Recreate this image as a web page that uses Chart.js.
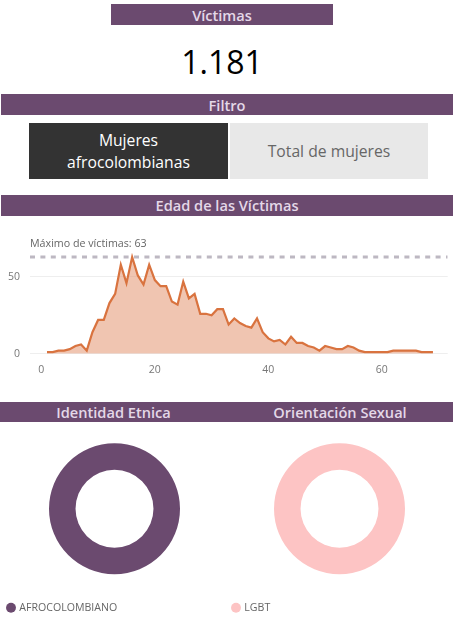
<!DOCTYPE html>
<html lang="es"><head><meta charset="utf-8">
<script src="https://cdn.jsdelivr.net/npm/chart.js@4"></script>
<style>
html,body{margin:0;padding:0;background:#fff;width:469px;height:635px;overflow:hidden;font-family:"Open Sans",sans-serif}
.bar,.btn,.num,canvas{position:absolute}
.bar{background:#6b4a6f;color:#e4d8e8;font-weight:600;font-size:14.6px;text-align:center;display:flex;align-items:center;justify-content:center;height:21px}
.btn{display:flex;align-items:center;justify-content:center;text-align:center;font-size:15.7px;line-height:22px}
.num{left:111px;width:222px;top:38px;text-align:center;font-size:32px;line-height:48px;color:#000}
</style></head><body>
<div class="bar" style="left:111px;top:4px;width:222px">Víctimas</div>
<div class="num">1.181</div>
<div class="bar" style="left:1px;top:94px;width:452px">Filtro</div>
<div class="btn" style="left:29px;top:123px;width:199px;height:56px;background:#333;color:#fff">Mujeres<br>afrocolombianas</div>
<div class="btn" style="left:230px;top:123px;width:198px;height:56px;background:#e8e8e8;color:#666">Total de mujeres</div>
<div class="bar" style="left:1px;top:194.5px;width:452px">Edad de las Víctimas</div>
<canvas id="line" style="left:0;top:226px;width:469px;height:150px"></canvas>
<canvas id="d1" style="left:0;top:423px;width:229px;height:200px"></canvas>
<canvas id="d2" style="left:225px;top:423px;width:229px;height:200px"></canvas>
<div class="bar" style="left:0;top:402px;width:227px;height:20px">Identidad Etnica</div>
<div class="bar" style="left:227px;top:402px;width:226px;height:20px">Orientación Sexual</div>
<script>
const ages = [1,2,3,4,5,6,7,8,9,10,11,12,13,14,15,16,17,18,19,20,21,22,23,24,25,26,27,28,29,30,31,32,33,34,35,36,37,38,39,40,41,42,43,44,45,46,47,48,49,50,51,52,53,54,55,56,57,58,59,60,61,62,63,64,65,66,67,68,69];
const victims = [1,1,2,2,3,5,6,2,14,22,22,33,39,58,46,63,51,45,58,48,44,44,34,32,47,36,39,26,26,25,29,29,19,23,20,18,17,23,14,10,8,9,6,11,7,7,5,4,2,5,4,3,3,5,4,2,1,1,1,1,1,2,2,2,2,2,1,1,1];
const maxValue = 63;
const maxLabel = "Máximo de víctimas: 63";
const xTicks = [0,20,40,60];
const yTicks = [0,50];
const ethnicLabels = ["AFROCOLOMBIANO"];
const ethnicValues = [1181];
const orientationLabels = ["LGBT"];
const orientationValues = [1181];

const FONT = "'Open Sans', sans-serif";
const X_MIN = -2, X_MAX = 71.6;
Chart.defaults.font.family = FONT;
Chart.defaults.animation = false;

const maxLabelPlugin = {
  id: 'maxLabel',
  afterDraw(c) {
    const ctx = c.ctx;
    ctx.save();
    ctx.font = "10.7px " + FONT;
    ctx.fillStyle = "#666";
    ctx.textAlign = "left";
    ctx.textBaseline = "alphabetic";
    ctx.fillText(maxLabel, c.scales.x.left, c.scales.y.getPixelForValue(maxValue) - 10);
    ctx.restore();
  }
};

new Chart(document.getElementById('line'), {
  type: 'line',
  data: { datasets: [
    { data: ages.map((a,i)=>({x:a,y:victims[i]})), borderColor:'#d9733f', backgroundColor:'rgba(226,140,100,0.5)', borderWidth:2.2, fill:'origin', pointRadius:0, tension:0, order:2 },
    { data: [{x:X_MIN,y:maxValue},{x:X_MAX,y:maxValue}], borderColor:'#bdb8c2', borderWidth:3, borderDash:[5,5.4], pointRadius:0, fill:false, order:1 }
  ]},
  options: {
    responsive:false, maintainAspectRatio:false,
    layout:{padding:{top:20.3,right:21.3,left:0,bottom:0}},
    plugins:{legend:{display:false},tooltip:{enabled:false}},
    scales:{
      x:{type:'linear',min:X_MIN,max:X_MAX,grid:{display:false},border:{display:false},
        afterBuildTicks(s){s.ticks=xTicks.map(v=>({value:v}));},
        afterFit(s){s.height=22.3;},
        ticks:{color:'#777',font:{size:10.5},padding:2,maxRotation:0,autoSkip:false}},
      y:{min:0,max:70,border:{display:false},grid:{color:'#eeeeee',lineWidth:1,drawTicks:false},
        afterBuildTicks(s){s.ticks=yTicks.map(v=>({value:v}));},
        afterFit(s){s.width=30;},
        ticks:{color:'#777',font:{size:10.5},padding:10}}
    }
  },
  plugins:[maxLabelPlugin]
});

function donut(id, labels, values, color){
  new Chart(document.getElementById(id), {
    type:'doughnut',
    data:{labels, datasets:[{data:values, backgroundColor:[color], borderWidth:0}]},
    options:{
      responsive:false, maintainAspectRatio:false,
      radius:65.5, cutout:'59.5%',
      plugins:{tooltip:{enabled:false},
        legend:{position:'bottom',align:'start',
          labels:{usePointStyle:true,pointStyle:'circle',boxWidth:6,boxHeight:7,padding:8,color:'#666',font:{size:10.6}}}}
    }
  });
}
donut('d1', ethnicLabels, ethnicValues, '#6b4a6f');
donut('d2', orientationLabels, orientationValues, '#fdc4c4');
</script>
</body></html>
